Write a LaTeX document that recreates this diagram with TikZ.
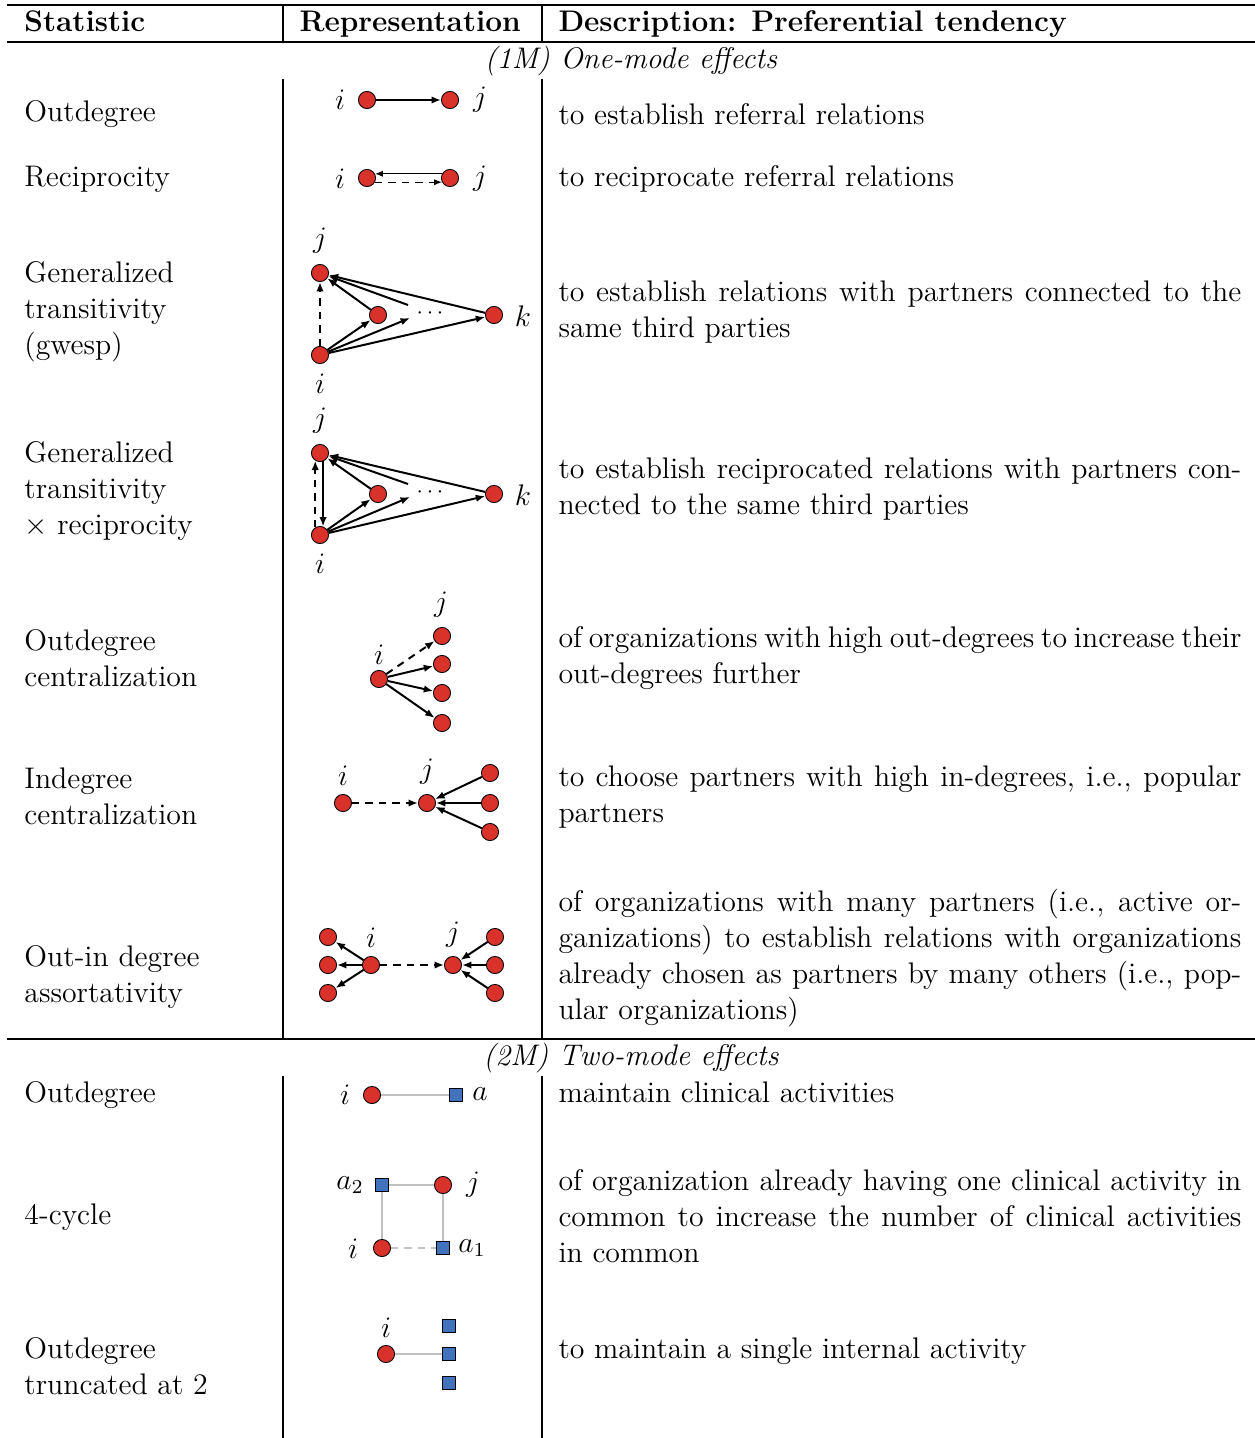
\documentclass[tikz,border=0pt]{standalone}
\usetikzlibrary{arrows.meta}
\definecolor{nodered}{RGB}{216,50,42}
\definecolor{nodeblue}{RGB}{66,114,188}
\definecolor{linkgray}{RGB}{192,192,192}
\tikzset{
  rn/.style={circle,fill=nodered,draw=black,line width=0.35pt,minimum size=6.9pt,inner sep=0pt},
  bs/.style={rectangle,fill=nodeblue,draw=black,line width=0.35pt,minimum size=5.3pt,inner sep=0pt},
  lab/.style={inner sep=0pt},
  dotslab/.style={inner sep=0pt,font=\fontsize{9}{10}\selectfont},
  arr/.style={-{Latex[length=3.8pt,width=3.0pt]},line width=0.8pt},
  thinarr/.style={-{Latex[length=3.2pt,width=2.5pt]},line width=0.5pt},
  dsh/.style={dash pattern=on 3pt off 2.4pt},
  glink/.style={draw=linkgray,line width=0.7pt},
  lt/.style={anchor=base west,inner sep=0pt},
  lm/.style={anchor=north west,inner sep=0pt,align=left},
  dm/.style={anchor=north west,inner sep=0pt,text width=275pt,align=justify},
  hd/.style={anchor=base west,inner sep=0pt,font=\fontsize{12}{14.5}\selectfont\bfseries},
  sect/.style={anchor=base,inner sep=0pt,font=\fontsize{12}{14.5}\selectfont\itshape},
  rulethick/.style={line width=0.8pt},
  rulethin/.style={line width=0.45pt}
}
\begin{document}
\begin{tikzpicture}[x=0.4027pt,y=-0.4027pt,font=\fontsize{12}{14.5}\selectfont]
\useasboundingbox (0,0) rectangle (1255,1438);

% ---------- table rules ----------
\coordinate (tl) at (7,5);    \coordinate (tr) at (1255,5);
\coordinate (hl) at (7,42);   \coordinate (hr) at (1255,42);
\coordinate (ml) at (7,1039); \coordinate (mr) at (1255,1039);
\draw[rulethick] (tl) -- (tr);
\draw[rulethick] (hl) -- (hr);
\draw[rulethin] (ml) -- (mr);
\coordinate (v1a) at (283,5);    \coordinate (v1b) at (283,42);
\coordinate (v2a) at (542,5);    \coordinate (v2b) at (542,42);
\coordinate (v1c) at (283,79);   \coordinate (v1d) at (283,1039);
\coordinate (v2c) at (542,79);   \coordinate (v2d) at (542,1039);
\coordinate (v1e) at (283,1076); \coordinate (v1f) at (283,1438);
\coordinate (v2e) at (542,1076); \coordinate (v2f) at (542,1438);
\draw[rulethin] (v1a) -- (v1b) (v2a) -- (v2b) (v1c) -- (v1d) (v2c) -- (v2d) (v1e) -- (v1f) (v2e) -- (v2f);

% ---------- header ----------
\node[hd] (h1) at (24,32) {Statistic};
\node[hd] (h2) at (299,32) {Representation};
\node[hd] (h3) at (558,32) {Description: Preferential tendency};
\node[sect] (s1) at (631,69) {(1M) One-mode effects};
\node[sect] (s2) at (631,1065) {(2M) Two-mode effects};

% ---------- left column ----------
\node[lt] (c1) at (24,122) {Outdegree};
\node[lt] (c2) at (24,187) {Reciprocity};
\node[lm] (c3) at (24,256.8) {\strut Generalized\\transitivity\\(gwesp)};
\node[lm] (c4) at (24,436.8) {\strut Generalized\\transitivity\\$\times$ reciprocity};
\node[lm] (c5) at (24,624.8) {\strut Outdegree\\centralization};
\node[lm] (c6) at (24,762.8) {\strut Indegree\\centralization};
\node[lm] (c7) at (24,940.8) {\strut Out-in degree\\assortativity};
\node[lt] (c8) at (24,1102) {Outdegree};
\node[lt] (c9) at (24,1224) {4-cycle};
\node[lm] (c10) at (24,1332.8) {\strut Outdegree\\truncated at 2};

% ---------- description column ----------
\node[lt] (d1) at (558,125) {to establish referral relations};
\node[lt] (d2) at (558,187) {to reciprocate referral relations};
\node[dm] (d3) at (558,275.8) {\strut to establish relations with partners connected to the same third parties};
\node[dm] (d4) at (558,452.8) {\strut to establish reciprocated relations with partners connected to the same third parties};
\node[dm] (d5) at (558,621.8) {\strut of organizations with high out-degrees to increase their out-degrees further};
\node[dm] (d6) at (558,760.8) {\strut to choose partners with high in-degrees, i.e., popular partners};
\node[dm] (d7) at (558,885.8) {\strut of organizations with many partners (i.e., active organizations) to establish relations with organizations already chosen as partners by many others (i.e., popular organizations)};
\node[lt] (d8) at (558,1102) {maintain clinical activities};
\node[dm] (d9) at (558,1164.8) {\strut of organization already having one clinical activity in common to increase the number of clinical activities in common};
\node[lt] (d10) at (558,1358) {to maintain a single internal activity};

% ---------- row 1: outdegree ----------
\node[rn] (r1i) at (367,100) {};
\node[rn] (r1j) at (450,100) {};
\node[lab] (r1li) at (340,100) {$i$};
\node[lab] (r1lj) at (480,100) {$j$};
\draw[arr] (r1i) -- (r1j);

% ---------- row 2: reciprocity ----------
\node[rn] (r2i) at (367,178) {};
\node[rn] (r2j) at (450,178) {};
\node[lab] (r2li) at (340,179) {$i$};
\node[lab] (r2lj) at (480,179) {$j$};
\draw[thinarr] (r2j.152) -- (r2i.28);
\draw[thinarr,dsh] (r2i.-28) -- (r2j.-152);

% ---------- row 3: gwesp ----------
\node[rn] (r3j) at (320,273) {};
\node[rn] (r3i) at (320,355) {};
\node[rn] (r3m) at (378,315) {};
\node[rn] (r3k) at (494,315) {};
\node[dotslab] (r3d) at (430,313) {$\cdots$};
\coordinate (r3e) at (410,318);
\coordinate (r3s) at (408,305);
\node[lab] (r3lj) at (320,241) {$j$};
\node[lab] (r3li) at (320,384) {$i$};
\node[lab] (r3lk) at (523,316) {$k$};
\draw[arr,dsh] (r3i) -- (r3j);
\draw[arr] (r3i) -- (r3m);
\draw[arr] (r3i) -- (r3e);
\draw[arr] (r3i) -- (r3k);
\draw[arr] (r3m) -- (r3j);
\draw[arr] (r3s) -- (r3j);
\draw[arr] (r3k) -- (r3j);

% ---------- row 4: gwesp x reciprocity ----------
\node[rn] (r4j) at (320,453) {};
\node[rn] (r4i) at (320,535) {};
\node[rn] (r4m) at (378,494) {};
\node[rn] (r4k) at (494,494) {};
\node[dotslab] (r4d) at (430,492) {$\cdots$};
\coordinate (r4e) at (410,497);
\coordinate (r4s) at (408,484);
\node[lab] (r4lj) at (320,421) {$j$};
\node[lab] (r4li) at (320,564) {$i$};
\node[lab] (r4lk) at (523,495) {$k$};
\draw[arr,dsh] (r4i.122) -- (r4j.238);
\draw[arr] (r4j.290) -- (r4i.70);
\draw[arr] (r4i) -- (r4m);
\draw[arr] (r4i) -- (r4e);
\draw[arr] (r4i) -- (r4k);
\draw[arr] (r4m) -- (r4j);
\draw[arr] (r4s) -- (r4j);
\draw[arr] (r4k) -- (r4j);

% ---------- row 5: outdegree centralization ----------
\node[rn] (r5i) at (379,679) {};
\node[rn] (r5a) at (442,636) {};
\node[rn] (r5b) at (442,664) {};
\node[rn] (r5c) at (442,693) {};
\node[rn] (r5d) at (442,723) {};
\node[lab] (r5li) at (379,655) {$i$};
\node[lab] (r5lj) at (441,605) {$j$};
\draw[arr,dsh] (r5i) -- (r5a);
\draw[arr] (r5i) -- (r5b);
\draw[arr] (r5i) -- (r5c);
\draw[arr] (r5i) -- (r5d);

% ---------- row 6: indegree centralization ----------
\node[rn] (r6i) at (343,803) {};
\node[rn] (r6j) at (427,803) {};
\node[rn] (r6a) at (490,773) {};
\node[rn] (r6b) at (490,803) {};
\node[rn] (r6c) at (490,832) {};
\node[lab] (r6li) at (343,776) {$i$};
\node[lab] (r6lj) at (427,772) {$j$};
\draw[arr,dsh] (r6i) -- (r6j);
\draw[arr] (r6a) -- (r6j);
\draw[arr] (r6b) -- (r6j);
\draw[arr] (r6c) -- (r6j);

% ---------- row 7: out-in degree assortativity ----------
\node[rn] (r7l1) at (328,937) {};
\node[rn] (r7l2) at (328,965) {};
\node[rn] (r7l3) at (328,993) {};
\node[rn] (r7i) at (371,965) {};
\node[rn] (r7j) at (453,965) {};
\node[rn] (r7r1) at (495,937) {};
\node[rn] (r7r2) at (495,965) {};
\node[rn] (r7r3) at (495,993) {};
\node[lab] (r7li) at (371,938) {$i$};
\node[lab] (r7lj) at (453,935) {$j$};
\draw[arr] (r7i) -- (r7l1);
\draw[arr] (r7i) -- (r7l2);
\draw[arr] (r7i) -- (r7l3);
\draw[arr,dsh] (r7i) -- (r7j);
\draw[arr] (r7r1) -- (r7j);
\draw[arr] (r7r2) -- (r7j);
\draw[arr] (r7r3) -- (r7j);

% ---------- row 8: two-mode outdegree ----------
\node[rn] (r8i) at (372,1095) {};
\node[bs] (r8a) at (456,1095) {};
\node[lab] (r8li) at (345,1095) {$i$};
\node[lab] (r8la) at (480,1094) {$a$};
\draw[glink] (r8i) -- (r8a);

% ---------- row 9: 4-cycle ----------
\node[bs] (r9a2) at (382,1185) {};
\node[rn] (r9j) at (443,1185) {};
\node[rn] (r9i) at (382,1248) {};
\node[bs] (r9a1) at (443,1248) {};
\node[lab] (r9la2) at (350,1185) {$a_2$};
\node[lab] (r9lj) at (473,1185) {$j$};
\node[lab] (r9li) at (353,1249) {$i$};
\node[lab] (r9la1) at (472,1248) {$a_1$};
\draw[glink] (r9a2) -- (r9j);
\draw[glink] (r9a2) -- (r9i);
\draw[glink] (r9j) -- (r9a1);
\draw[glink,dsh] (r9i) -- (r9a1);

% ---------- row 10: outdegree truncated ----------
\node[rn] (r10i) at (386,1354) {};
\node[bs] (r10a) at (449,1326) {};
\node[bs] (r10b) at (449,1354) {};
\node[bs] (r10c) at (449,1383) {};
\node[lab] (r10li) at (386,1328) {$i$};
\draw[glink] (r10i) -- (r10b);
\end{tikzpicture}
\end{document}
